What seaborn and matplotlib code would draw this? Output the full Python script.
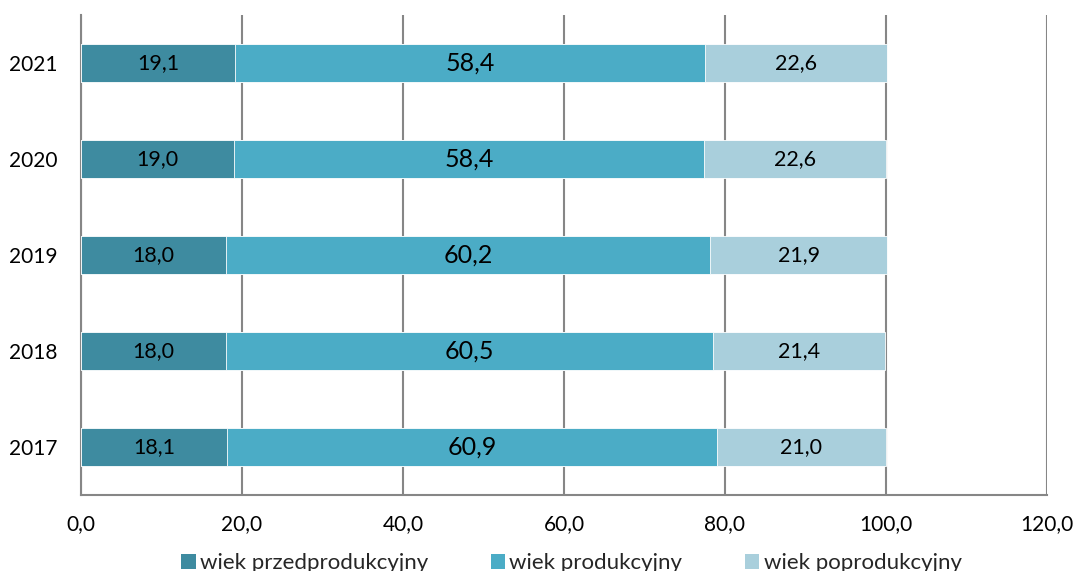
import numpy as np
import pandas as pd
import matplotlib
matplotlib.use('Agg')
import matplotlib.pyplot as plt
import seaborn as sns
from matplotlib.patches import Patch

sns.set_style('white')
plt.rcParams['font.family'] = ['Lato', 'DejaVu Sans']

# data
years = ['2021', '2020', '2019', '2018', '2017']
przed = [19.1, 19.0, 18.0, 18.0, 18.1]
prod = [58.4, 58.4, 60.2, 60.5, 60.9]
poprod = [22.6, 22.6, 21.9, 21.4, 21.0]
names = ['wiek przedprodukcyjny', 'wiek produkcyjny', 'wiek poprodukcyjny']
colors = ['#3E8BA0', '#4BACC6', '#A9CFDC']

df = pd.DataFrame({'rok': years, 'przed': przed, 'prod': prod, 'poprod': poprod})
df['c1'] = df['przed']
df['c2'] = df['przed'] + df['prod']
df['c3'] = df['c2'] + df['poprod']

fig = plt.figure(figsize=(10.76, 5.71), dpi=100)
ax = fig.add_axes([0.0753, 0.133, 0.8977, 0.841])

# stacked bars by overlaying cumulative totals
for col, c in zip(['c3', 'c2', 'c1'], colors[::-1]):
    sns.barplot(data=df, x=col, y='rok', order=years, color=c, width=0.4,
                orient='h', ax=ax, saturation=1, edgecolor='white', linewidth=0.6,
                zorder=3)

# value labels
for i, r in df.iterrows():
    ax.text(r['przed'] / 2, i, f"{r['przed']:.1f}".replace('.', ','),
            ha='center', va='center', fontsize=15.5, color='black', zorder=5)
    ax.text(r['c1'] + r['prod'] / 2, i, f"{r['prod']:.1f}".replace('.', ','),
            ha='center', va='center', fontsize=18, color='black', zorder=5)
    ax.text(r['c2'] + r['poprod'] / 2, i, f"{r['poprod']:.1f}".replace('.', ','),
            ha='center', va='center', fontsize=15.5, color='black', zorder=5)

ax.set_xlim(0, 120)
ax.set_ylim(len(years) - 0.5, -0.5)
xt = np.arange(0, 121, 20)
ax.set_xticks(xt)
ax.set_xticklabels([f"{v:.1f}".replace('.', ',') for v in xt], fontsize=15)
ax.set_xlabel('')
ax.set_ylabel('')
ax.tick_params(axis='y', labelsize=15, length=0, pad=17, labelcolor='black')
ax.tick_params(axis='x', length=7, width=1.5, color='#868686', direction='out', pad=7,
               labelcolor='black')

# minor ticks between categories on the y axis
ax.set_yticks(np.arange(-0.5, len(years), 1), minor=True)
ax.tick_params(axis='y', which='minor', length=6, width=1.5, color='#868686', direction='out')

ax.grid(axis='x', color='#868686', linewidth=1.5, zorder=0)
ax.set_axisbelow(True)
for s in ['top', 'right']:
    ax.spines[s].set_visible(False)
for s in ['left', 'bottom']:
    ax.spines[s].set_color('#868686')
    ax.spines[s].set_linewidth(1.5)

handles = [Patch(facecolor=c, edgecolor='none') for c in colors]
fig.legend(handles, names, loc='center', bbox_to_anchor=(0.531, 0.014), ncol=3,
           frameon=False, fontsize=16, handlelength=0.65, handleheight=0.65,
           handletextpad=0.2, columnspacing=2.8, borderpad=0)

fig.savefig('out.png', dpi=100)
